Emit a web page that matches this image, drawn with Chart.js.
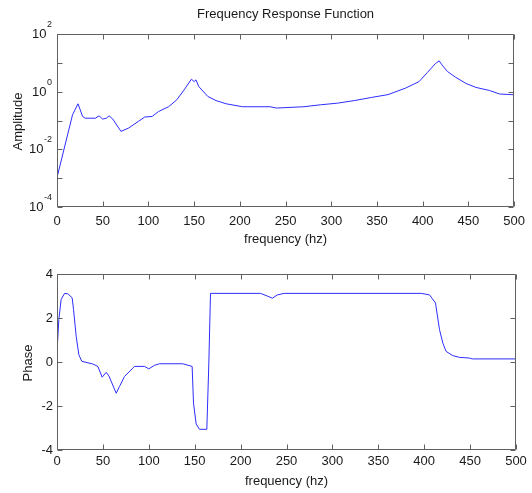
<!DOCTYPE html>
<html>
<head>
<meta charset="utf-8">
<script src="https://cdn.jsdelivr.net/npm/chart.js@4.4.1/dist/chart.umd.min.js"></script>
<style>
  html, body { margin: 0; padding: 0; background: #fff; }
  #wrap { position: relative; width: 532px; height: 493px; background: #fff; }
  #c1 { position: absolute; left: 0; top: 0; }
  #c2 { position: absolute; left: 0; top: 250px; }
</style>
</head>
<body>
<div id="wrap">
  <canvas id="c1" width="532" height="250"></canvas>
  <canvas id="c2" width="532" height="243"></canvas>
</div>
<script>
// ---- data ----
const ampFreq = [0, 17, 23, 28, 31, 42, 46, 50, 54, 57, 61, 70, 78, 89, 96, 104, 111, 122, 131, 139, 147, 150, 152, 155, 165, 174, 185, 203, 233, 240, 270, 288, 307, 325, 344, 362, 381, 396, 405, 414, 418, 421, 427, 436, 447, 458, 473, 484, 500];
const ampValues = [0.00105, 0.158, 0.38, 0.138, 0.12, 0.12, 0.145, 0.112, 0.12, 0.145, 0.112, 0.042, 0.054, 0.093, 0.132, 0.138, 0.204, 0.30, 0.52, 1.15, 2.7, 2.24, 2.57, 1.51, 0.68, 0.49, 0.38, 0.30, 0.30, 0.27, 0.30, 0.35, 0.40, 0.49, 0.63, 0.79, 1.32, 2.24, 4.57, 9.5, 11.7, 8.5, 5.0, 3.16, 1.95, 1.41, 1.10, 0.83, 0.78];

const phaseFreq = [0, 2, 4.5, 8.2, 11.8, 16.5, 18, 20.9, 23.8, 27, 39, 44.5, 49.2, 53.6, 56.5, 64.5, 68.1, 73.5, 84.4, 95.3, 100, 106.2, 111.7, 137, 147.2, 148.7, 151.6, 155.2, 163.2, 165.4, 167.2, 221.7, 229, 234.7, 240, 247.6, 396.7, 405.8, 412.3, 416.7, 420.3, 423.9, 431.2, 438.4, 449.3, 452.3, 500];
const phaseValues = [0.45, 1.93, 2.84, 3.12, 3.10, 2.92, 2.39, 1.17, 0.33, 0.03, -0.09, -0.2, -0.69, -0.47, -0.63, -1.42, -1.11, -0.66, -0.2, -0.2, -0.31, -0.15, -0.08, -0.08, -0.2, -1.87, -2.82, -3.06, -3.06, -0.05, 3.12, 3.12, 3.0, 2.9, 3.05, 3.12, 3.12, 3.05, 2.68, 1.47, 0.86, 0.48, 0.29, 0.21, 0.18, 0.14, 0.14];

const freqTicks = [0, 50, 100, 150, 200, 250, 300, 350, 400, 450, 500];
const ampMajorTicks = [1e-4, 1e-2, 1e0, 1e2];
const ampTickExponents = ['-4', '-2', '0', '2'];
const ampMinorTicks = [1e-3, 1e-1, 1e1];
const phaseTicks = [-4, -2, 0, 2, 4];

const chartTitle = 'Frequency Response Function';
const xTitle = 'frequency (hz)';
const ampTitle = 'Amplitude';
const phaseTitle = 'Phase';

// ---- styles ----
const FONT = '"Liberation Sans", Arial, Helvetica, sans-serif';
const LINE = 'rgb(45,45,255)';
const FRAME = '#606060';
const TEXT = '#1a1a1a';
const TICKLEN = 5;

const framePlugin = {
  id: 'matFrame',
  afterDraw(chart, args, o) {
    const { ctx, chartArea: a } = chart;
    const xs = chart.scales.x, ys = chart.scales.y;
    const L = Math.round(a.left) + 0.5, R = Math.round(a.right) - 0.5;
    const T = Math.round(a.top) + 0.5, B = Math.round(a.bottom) - 0.5;
    ctx.save();
    ctx.strokeStyle = FRAME;
    ctx.lineWidth = 1;
    ctx.beginPath();
    ctx.rect(L, T, R - L, B - T);
    // x ticks (inward, top and bottom)
    o.xTicks.forEach(v => {
      const px = Math.round(xs.getPixelForValue(v)) + 0.5;
      ctx.moveTo(px, B); ctx.lineTo(px, B - TICKLEN);
      ctx.moveTo(px, T); ctx.lineTo(px, T + TICKLEN);
    });
    o.yTicks.forEach(v => {
      const py = Math.round(ys.getPixelForValue(v)) + 0.5;
      ctx.moveTo(L, py); ctx.lineTo(L + TICKLEN, py);
      ctx.moveTo(R, py); ctx.lineTo(R - TICKLEN, py);
    });
    ctx.stroke();

    ctx.fillStyle = TEXT;
    // titles
    const cx = (a.left + a.right) / 2;
    ctx.font = '13px ' + FONT;
    ctx.textAlign = 'center';
    ctx.textBaseline = 'alphabetic';
    if (o.title) ctx.fillText(o.title, cx, o.titleY);
    ctx.fillText(o.xTitle, cx, a.bottom + o.xTitleOffset);
    ctx.save();
    ctx.translate(o.yTitleX, (a.top + a.bottom) / 2 + 1);
    ctx.rotate(-Math.PI / 2);
    ctx.fillText(o.yTitle, 0, 0);
    ctx.restore();

    // log tick labels with superscripts
    if (o.expLabels) {
      o.expLabels.values.forEach((v, i) => {
        const py = ys.getPixelForValue(v);
        const e = o.expLabels.exps[i];
        ctx.font = '9px ' + FONT;
        const ew = ctx.measureText(e).width;
        const right = 52;
        ctx.textAlign = 'left';
        ctx.fillText(e, right - ew, py - 7);
        ctx.font = '13px ' + FONT;
        ctx.textAlign = 'right';
        ctx.fillText('10', right - ew - 0.5, py + 4);
      });
    }
    ctx.restore();
  }
};

function xScale(pad) {
  return {
    type: 'linear', min: 0, max: 500,
    grid: { display: false, drawTicks: false },
    border: { display: false },
    afterBuildTicks(s) { s.ticks = freqTicks.map(v => ({ value: v })); },
    ticks: { padding: pad, color: TEXT, font: { family: FONT, size: 13 }, maxRotation: 0, autoSkip: false },
    afterFit(s) { s.height = 43; }
  };
}

const common = {
  animation: false, responsive: false, maintainAspectRatio: false,
  events: [],
  plugins: { legend: { display: false }, tooltip: { enabled: false }, title: { display: false } }
};

new Chart(document.getElementById('c1'), {
  type: 'line',
  data: { datasets: [{ data: ampFreq.map((f, i) => ({ x: f, y: ampValues[i] })), borderColor: LINE, borderWidth: 1, pointRadius: 0, tension: 0, fill: false }] },
  options: Object.assign({}, common, {
    layout: { padding: { left: 0, right: 16, top: 34, bottom: 0 } },
    scales: {
      x: xScale(7),
      y: {
        type: 'logarithmic', min: 1e-4, max: 1e2,
        grid: { display: false, drawTicks: false }, border: { display: false },
        ticks: { display: false },
        afterFit(s) { s.width = 57; }
      }
    },
    plugins: Object.assign({}, common.plugins, {
      matFrame: {
        xTicks: freqTicks, yTicks: ampMajorTicks.concat(ampMinorTicks),
        title: chartTitle, titleY: 18, xTitle: xTitle, xTitleOffset: 36,
        yTitle: ampTitle, yTitleX: 22,
        expLabels: { values: ampMajorTicks, exps: ampTickExponents }
      }
    })
  }),
  plugins: [framePlugin]
});

new Chart(document.getElementById('c2'), {
  type: 'line',
  data: { datasets: [{ data: phaseFreq.map((f, i) => ({ x: f, y: phaseValues[i] })), borderColor: LINE, borderWidth: 1, pointRadius: 0, tension: 0, fill: false }] },
  options: Object.assign({}, common, {
    layout: { padding: { left: 0, right: 16, top: 24, bottom: 0 } },
    scales: {
      x: xScale(4),
      y: {
        type: 'linear', min: -4, max: 4,
        grid: { display: false, drawTicks: false }, border: { display: false },
        afterBuildTicks(s) { s.ticks = phaseTicks.map(v => ({ value: v })); },
        ticks: { padding: 4, color: TEXT, font: { family: FONT, size: 13 } },
        afterFit(s) { s.width = 57; }
      }
    },
    plugins: Object.assign({}, common.plugins, {
      matFrame: {
        xTicks: freqTicks, yTicks: phaseTicks,
        title: null, xTitle: xTitle, xTitleOffset: 35,
        yTitle: phaseTitle, yTitleX: 32
      }
    })
  }),
  plugins: [framePlugin]
});
</script>
</body>
</html>
